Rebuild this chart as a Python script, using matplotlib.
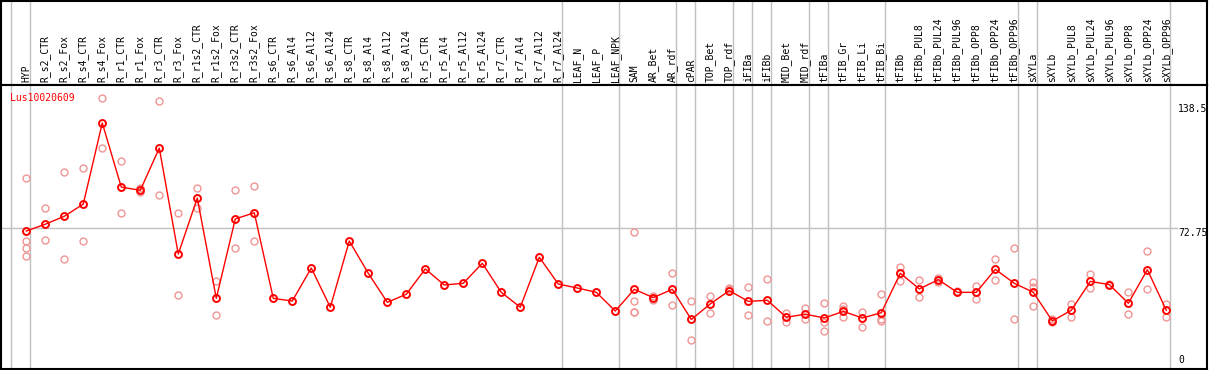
import matplotlib
matplotlib.use('Agg')
import matplotlib.pyplot as plt

plt.rcParams['font.family'] = ['DejaVu Sans Mono']

# gene shown in the plot
GENE = 'Lus10020609'

# sample names along the x axis
SAMPLES = ['HYP', 'R_s2_CTR', 'R_s2_Fox', 'R_s4_CTR', 'R_s4_Fox', 'R_r1_CTR', 'R_r1_Fox',
           'R_r3_CTR', 'R_r3_Fox', 'R_r1s2_CTR', 'R_r1s2_Fox', 'R_r3s2_CTR', 'R_r3s2_Fox',
           'R_s6_CTR', 'R_s6_Al4', 'R_s6_Al12', 'R_s6_Al24', 'R_s8_CTR', 'R_s8_Al4',
           'R_s8_Al12', 'R_s8_Al24', 'R_r5_CTR', 'R_r5_Al4', 'R_r5_Al12', 'R_r5_Al24',
           'R_r7_CTR', 'R_r7_Al4', 'R_r7_Al12', 'R_r7_Al24', 'LEAF_N', 'LEAF_P', 'LEAF_NPK',
           'SAM', 'AR_Bet', 'AR_rdf', 'cPAR', 'TOP_Bet', 'TOP_rdf', 'iFIBa', 'iFIBb',
           'MID_Bet', 'MID_rdf', 'tFIBa', 'tFIB_Gr', 'tFIB_Li', 'tFIB_Bi', 'tFIBb',
           'tFIBb_PUL8', 'tFIBb_PUL24', 'tFIBb_PUL96', 'tFIBb_OPP8', 'tFIBb_OPP24',
           'tFIBb_OPP96', 'sXYLa', 'sXYLb', 'sXYLb_PUL8', 'sXYLb_PUL24', 'sXYLb_PUL96',
           'sXYLb_OPP8', 'sXYLb_OPP24', 'sXYLb_OPP96']

# mean expression per sample
MEANS = [71.3, 74.9, 79.1, 85.6, 128.6, 94.6, 92.9, 115.3, 59.1, 88.8, 35.6, 77.7, 81.0,
         35.6, 34.2, 51.7, 30.9, 66.0, 48.9, 33.5, 37.8, 51.2, 42.7, 43.6, 54.2,
         38.8, 30.9, 57.4, 43.2, 41.1, 38.8, 28.9,
         40.4, 36.0, 40.4, 24.4, 32.7, 39.7, 34.0, 34.6, 25.6, 27.2, 25.2, 28.7, 25.2, 28.0,
         48.9, 40.6, 45.5, 38.8, 38.8, 51.0, 43.6, 38.8, 23.6, 29.3, 44.6, 42.9, 33.0, 50.8, 29.3]

# replicate values per sample (empty = no replicates)
REPS = [[99.3, 66.0, 62.1, 57.9], [83.4, 66.4], [102.4, 56.5], [104.6, 66.0],
        [141.7, 115.2], [108.3, 80.9], [94.3, 91.8], [140.3, 90.4], [80.9, 37.4],
        [94.1, 83.4], [44.8, 26.9], [92.9, 62.3], [95.2, 66.0],
        [], [], [], [], [], [], [], [], [], [], [], [], [], [], [], [], [], [], [],
        [70.8, 34.0, 28.6, 28.2], [36.6, 34.5], [48.9, 32.0], [34.0, 13.6], [37.0, 27.7],
        [41.1, 40.4], [41.5, 26.7], [45.7, 23.6], [27.7, 23.1], [30.5, 24.5],
        [33.0, 23.1, 18.1], [31.5, 30.0, 25.6], [28.4, 20.6], [37.8, 24.4, 23.5],
        [52.4, 45.0], [45.2, 36.2], [46.6, 44.1], [39.5], [42.2, 35.1], [56.5, 45.2],
        [62.1, 24.5], [44.4, 41.5, 31.4], [24.4, 22.9], [32.7, 25.6], [48.5, 40.9],
        [43.2], [38.8, 27.2], [60.6, 40.4], [32.7, 25.7]]

# last sample of each group (vertical separators)
GROUP_ENDS = [-1, 0, 28, 31, 34, 35, 37, 38, 39, 41, 42, 45, 52, 53, 60]

# y reference values
Y_TICKS = [138.5, 72.75, 0]

W, H = 1209, 370
fig = plt.figure(figsize=(W / 100, H / 100), dpi=100)


def box(x0, y0, x1, y1):
    return [x0 / W, 1 - y1 / H, (x1 - x0) / W, (y1 - y0) / H]


head = fig.add_axes(box(1, 1, 1207, 85))
ax = fig.add_axes(box(1, 85, 1207, 369))

xlim = (-1.33, 62.14)
for a in (head, ax):
    a.set_xlim(*xlim)
    a.set_xticks([])
    a.set_yticks([])
    for sp in a.spines.values():
        sp.set_linewidth(1.5)
        sp.set_color('black')
    for g in GROUP_ENDS:
        a.axvline(g + 0.21, color='#c0c0c0', lw=1, zorder=0)

head.set_ylim(0, 1)
for i, s in enumerate(SAMPLES):
    head.text(i, 0.03, s, rotation=90, ha='center', va='bottom', fontsize=7)

ax.set_ylim(-1.85, 148.73)
ax.axhline(Y_TICKS[1], xmax=0.975, color='#c0c0c0', lw=1, zorder=0)

# replicates
for i, reps in enumerate(REPS):
    ax.plot([i] * len(reps), reps, 'o', ms=5, mfc='none', mec='#f09595', mew=1.0,
            ls='none', zorder=2)

# means
ax.plot(range(len(SAMPLES)), MEANS, '-', color='red', lw=1, zorder=3)
ax.plot(range(len(SAMPLES)), MEANS, 'o', ms=5, mfc='none', mec='red', mew=1.4,
        ls='none', zorder=4)

ax.text(0.0075, 0.955, GENE, transform=ax.transAxes, color='red', fontsize=7,
        ha='left', va='center')

# y labels inside the right edge
for v in Y_TICKS[:2]:
    ax.text(0.976, v, f'{v:g}', transform=ax.get_yaxis_transform(), fontsize=7,
            ha='left', va='top', zorder=5)
ax.text(0.976, 0.015, f'{Y_TICKS[2]:g}', transform=ax.transAxes, fontsize=7,
        ha='left', va='bottom')

fig.savefig('out.png', dpi=100)
